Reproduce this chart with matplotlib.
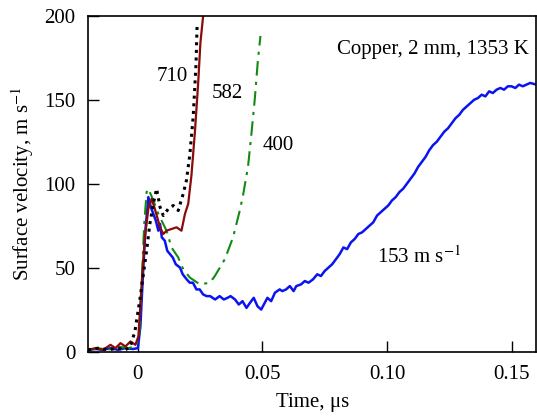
import matplotlib
matplotlib.use("Agg")
import matplotlib.pyplot as plt

plt.rcParams['font.family'] = ['Liberation Serif', 'DejaVu Serif']
plt.rcParams['mathtext.fontset'] = 'stix'

# Blue: 153 m/s
t_153 = [-0.020, -0.017, -0.014, -0.011, -0.008, -0.005, -0.002, 0.0, 0.001, 0.002, 0.003, 0.0042,
         0.0052, 0.0062, 0.0072, 0.0082, 0.0089, 0.0096, 0.0108, 0.0118, 0.0129, 0.014, 0.0152, 0.0169,
         0.018, 0.0196, 0.0208, 0.0221, 0.0235, 0.0248, 0.0262, 0.0276, 0.029, 0.031, 0.0328, 0.0345,
         0.036, 0.0372, 0.039, 0.0405, 0.042, 0.0436, 0.045, 0.0465, 0.048, 0.0495, 0.0502, 0.052,
         0.0535, 0.055, 0.0569, 0.058, 0.0595, 0.061, 0.0625, 0.0636, 0.0655, 0.067, 0.0685, 0.0703,
         0.072, 0.0735, 0.075, 0.0765, 0.078, 0.0795, 0.081, 0.0825, 0.084, 0.0855, 0.087, 0.0885,
         0.09, 0.0915, 0.093, 0.0945, 0.096, 0.0975, 0.099, 0.1005, 0.102, 0.1035, 0.105, 0.1065,
         0.108, 0.1095, 0.111, 0.1125, 0.114, 0.1155, 0.117, 0.1185, 0.12, 0.1215, 0.123, 0.1245,
         0.126, 0.1275, 0.129, 0.1305, 0.132, 0.1335, 0.135, 0.1365, 0.138, 0.1395, 0.141, 0.1425,
         0.144, 0.1455, 0.147, 0.1485, 0.15, 0.1515, 0.153, 0.1545, 0.156, 0.1575, 0.16]
v_153 = [1, 1.5, 1, 2, 1, 2, 1.5, 2, 15, 45, 72, 92,
         86, 82, 78, 72, 76, 68, 66, 60, 58, 56, 52, 50,
         46, 43, 41, 41, 37, 37, 34, 33, 33, 31, 33, 31,
         32, 33, 31, 28, 30, 26, 29, 32, 27, 25, 27, 32,
         30, 35, 37, 36, 37, 39, 36, 39, 40, 42, 41, 43,
         46, 45, 48, 50, 52, 55, 58, 62, 61, 65, 67, 70,
         71, 73, 75, 77, 81, 83, 85, 87, 90, 92, 95, 97,
         100, 103, 106, 110, 113, 116, 120, 123, 125, 128, 131, 133,
         136, 139, 141, 144, 146, 148, 150, 151, 153, 152, 155, 154,
         156, 157, 156, 158, 158, 157, 159, 158, 159, 160, 159]

# Green: 400 m/s
t_400 = [-0.020, -0.016, -0.012, -0.008, -0.004, -0.001, 0.0005, 0.0015, 0.0025, 0.0035, 0.0042,
         0.0062, 0.0082, 0.0115, 0.0135, 0.0162, 0.0182, 0.0209, 0.0249, 0.0289, 0.0309,
         0.0349, 0.0382, 0.0409, 0.0422, 0.0442, 0.0456, 0.0469, 0.0482, 0.0492]
v_400 = [1, 2, 1, 3, 2, 3, 8, 40, 75, 95, 97,
         90, 82, 72, 62, 56, 49, 44, 40, 41, 45,
         55, 68, 84, 93, 110, 130, 150, 174, 188]

# Dark red: 582 m/s
t_582 = [-0.020, -0.017, -0.014, -0.011, -0.009, -0.007, -0.005, -0.003, -0.001, 0.0002, 0.0015,
         0.0028, 0.0042, 0.0055, 0.0068, 0.0089, 0.0102, 0.0115, 0.0135, 0.0155, 0.0175,
         0.0189, 0.0202, 0.0215, 0.0229, 0.0242, 0.0251, 0.0262]
v_582 = [1, 2, 1, 4, 2, 5, 3, 6, 4, 9, 40,
         68, 85, 91, 85, 74, 70, 72, 73, 74, 72,
         82, 88, 105, 131, 160, 184, 200]

# Black dotted: 710 m/s
t_710 = [-0.020, -0.016, -0.012, -0.008, -0.005, -0.003, -0.0012, 0.0008, 0.0035, 0.0048, 0.0062,
         0.0075, 0.0089, 0.0102, 0.0122, 0.0142, 0.0162, 0.0182, 0.0195, 0.0209, 0.0222,
         0.0233, 0.0238]
v_710 = [1, 2, 1, 2, 1, 3, 12, 31, 60, 76, 88,
         97, 86, 81, 85, 87, 84, 94, 102, 118, 140,
         170, 196]

x_ticks = [0, 0.05, 0.10, 0.15]
x_ticklabels = ['0', '0.05', '0.10', '0.15']
y_ticks = [0, 50, 100, 150, 200]

FS = 15

fig = plt.figure(figsize=(5.37, 4.16), dpi=100)
ax = fig.add_axes([0.164, 0.155, 0.835, 0.807])

ax.plot(t_153, v_153, color='#0a14f0', lw=1.8)
ax.plot(t_400, v_400, color='#138a13', lw=1.5, dashes=(7, 3, 1.5, 3))
ax.plot(t_582, v_582, color='#8b0a0a', lw=1.6)
ax.plot(t_710, v_710, color='black', lw=2.2, linestyle=(0, (1, 1.5)))

ax.set_xlim(-0.02, 0.16)
ax.set_ylim(0, 200)
ax.set_xticks(x_ticks)
ax.set_xticklabels(x_ticklabels)
ax.set_yticks(y_ticks)
ax.tick_params(direction='in', length=8, width=1, labelsize=FS)
ax.tick_params(axis='x', pad=10)
ax.tick_params(axis='y', pad=9)
for s in ax.spines.values():
    s.set_linewidth(1.2)

ax.set_xlabel('Time, μs', fontsize=FS, labelpad=6)
ax.set_ylabel('Surface velocity, m s$^{-1}$', fontsize=FS, labelpad=6)

ax.text(0.157, 180, 'Copper, 2 mm, 1353 K', fontsize=FS, ha='right', va='center')
ax.text(0.0136, 164, '710', fontsize=FS, ha='center', va='center')
ax.text(0.036, 154, '582', fontsize=FS, ha='center', va='center')
ax.text(0.0565, 123, '400', fontsize=FS, ha='center', va='center')
ax.text(0.0958, 56, '153 m s$^{-1}$', fontsize=FS, ha='left', va='center')

fig.savefig('out.png', dpi=100)
